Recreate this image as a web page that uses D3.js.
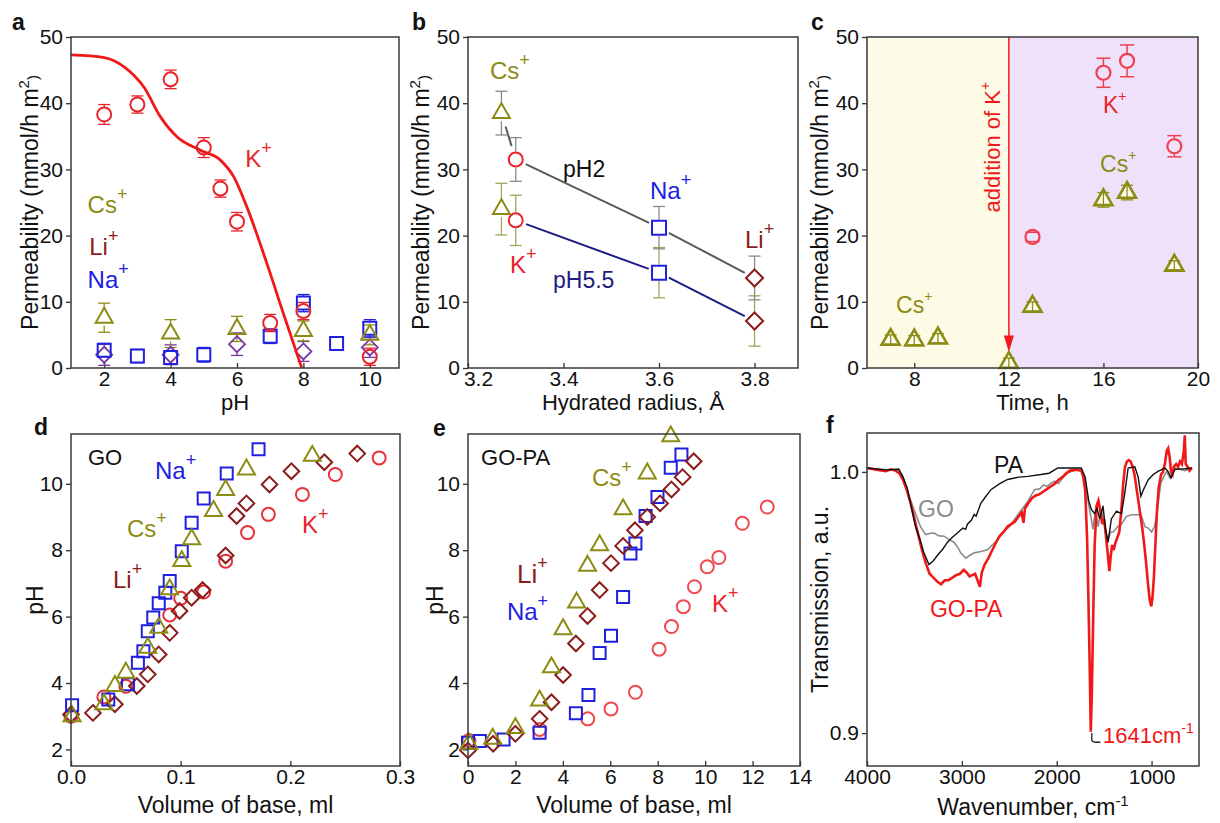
<!DOCTYPE html>
<html>
<head>
<meta charset="utf-8">
<script src="https://cdn.jsdelivr.net/npm/d3@7"></script>
<style>
  body { margin: 0; background: #fff; }
  svg { font-family: "Liberation Sans", Arial, sans-serif; }
</style>
</head>
<body>
<svg id="fig" width="1220" height="823"></svg>
<script>
const FONT = '"Liberation Sans", Arial, sans-serif';
const RED = '#e8242c', OLIVE = '#8c8c14', BLUE = '#2020e0', MAROON = '#8b1c1c', PURPLE = '#7a36a6';

// a: permeability vs pH, [pH, value, error]
const aK = [[2, 38.3, 1.5], [3, 39.8, 1.3], [4, 43.6, 1.4], [5, 33.3, 1.5], [5.5, 27.1, 1.3], [6, 22.1, 1.4], [7, 6.8, 1.3], [8, 8.6, 1.3], [10, 1.7, 1.3]];
const aCs = [[2, 7.6, 2.2], [4, 5.2, 2.1], [6, 5.9, 1.9], [8, 5.6, 1.5], [10, 5.0, 1.5]];
const aNa = [[2, 2.7, 1.0], [3, 1.8, 1.0], [4, 1.6, 1.0], [5, 2.0, 1.1], [7, 4.8, 1.1], [8, 9.8, 1.3], [9, 3.7, 1.0], [10, 6.0, 1.3]];
const aLi = [[2, 2.0, 1.6], [4, 2.0, 1.5], [6, 3.6, 1.7], [8, 2.5, 1.5], [10, 3.1, 1.5]];
const aFit = [[1, 47.3], [2, 46.9], [2.6, 45.5], [3.2, 42.4], [3.7, 37.9], [4.2, 34.9], [4.9, 32.9], [5.5, 31.4], [5.9, 28.9], [6.3, 24.3], [6.9, 15.8], [7.4, 8.2], [7.95, 0]];

// b: permeability vs hydrated radius (Cs, K, Na, Li)
const bRadius = [3.27, 3.30, 3.60, 3.80];
const bPH2 = [38.5, 31.5, 21.2, 13.6];
const bPH2Err = [3.3, 3.3, 3.2, 3.3];
const bPH55 = [24.0, 22.3, 14.4, 7.1];
const bPH55Err = [3.9, 3.8, 3.8, 3.8];

// c: permeability vs time
const cCsTime = [7, 8, 9, 12, 13, 16, 17, 19];
const cCs = [4.3, 4.2, 4.5, 0.8, 9.3, 25.4, 26.5, 15.5];
const cCsErr = [0.7, 0.7, 0.7, 0.7, 0.7, 1.1, 1.1, 0.7];
const cKTime = [13, 16, 17, 19];
const cK = [19.8, 44.6, 46.4, 33.5];
const cKErr = [0.7, 2.2, 2.4, 1.6];
const cAddition = 12;

// d: GO titration, [volume ml, pH]
const dNa = [[0.001, 3.33], [0.034, 3.5], [0.052, 3.96], [0.061, 4.61], [0.066, 4.96], [0.070, 5.56], [0.075, 5.97], [0.080, 6.40], [0.086, 6.72], [0.090, 7.07], [0.101, 7.97], [0.110, 8.83], [0.121, 9.56], [0.142, 10.31], [0.171, 11.04]];
const dCs = [[0.001, 3.0], [0.030, 3.36], [0.040, 3.91], [0.050, 4.31], [0.070, 5.06], [0.080, 5.66], [0.090, 6.82], [0.101, 7.67], [0.110, 8.33], [0.130, 9.18], [0.141, 9.81], [0.160, 10.43], [0.220, 10.84]];
const dLi = [[0.0, 3.05], [0.020, 3.10], [0.040, 3.36], [0.060, 3.91], [0.070, 4.26], [0.080, 4.86], [0.090, 5.51], [0.099, 6.17], [0.110, 6.57], [0.120, 6.80], [0.141, 7.84], [0.151, 9.03], [0.160, 9.41], [0.181, 9.98], [0.201, 10.38], [0.231, 10.65], [0.261, 10.91]];
const dK = [[0.0, 3.0], [0.03, 3.58], [0.05, 3.9], [0.09, 6.05], [0.10, 6.55], [0.121, 6.74], [0.141, 7.67], [0.161, 8.53], [0.180, 9.08], [0.211, 9.68], [0.241, 10.28], [0.281, 10.78]];

// e: GO-PA titration, [volume ml, pH]
const eCs = [[0.04, 2.17], [1.04, 2.32], [2.0, 2.64], [3.02, 3.47], [3.52, 4.47], [4.01, 5.62], [4.58, 6.42], [5.04, 7.53], [5.55, 8.15], [6.54, 9.23], [7.56, 10.31], [8.55, 11.43]];
const eLi = [[0.0, 1.97], [1.06, 2.17], [2.0, 2.47], [3.02, 2.92], [3.52, 3.42], [4.01, 4.24], [4.55, 5.19], [5.04, 6.02], [5.55, 6.80], [6.03, 7.61], [6.54, 8.13], [7.04, 8.60], [7.56, 9.0], [8.1, 9.41], [8.58, 9.83], [9.05, 10.2], [9.52, 10.68]];
const eNa = [[0.0, 2.2], [0.5, 2.25], [1.5, 2.3], [3.02, 2.5], [4.55, 3.09], [5.08, 3.64], [5.55, 4.9], [6.03, 5.42], [6.54, 6.59], [6.85, 7.9], [7.06, 8.2], [7.49, 9.03], [7.99, 9.6], [8.55, 10.48], [9.0, 10.88]];
const eK = [[0.04, 2.27], [3.02, 2.6], [5.05, 2.92], [6.03, 3.22], [7.06, 3.72], [8.06, 5.02], [8.58, 5.7], [9.08, 6.3], [9.55, 6.9], [10.09, 7.5], [10.58, 7.78], [11.57, 8.81], [12.62, 9.3]];

// f: FTIR, [wavenumber, transmission]
const fGOPA = [[4000, 1.0015], [3900, 1.0008], [3800, 1.0003], [3750, 1.001], [3700, 1.0005], [3660, 0.9995], [3620, 0.997], [3580, 0.993], [3540, 0.988], [3500, 0.982], [3460, 0.976], [3420, 0.970], [3380, 0.965], [3340, 0.961], [3300, 0.9595], [3260, 0.958], [3220, 0.957], [3180, 0.9585], [3140, 0.9585], [3100, 0.9595], [3060, 0.9605], [3020, 0.961], [2980, 0.9625], [2950, 0.9615], [2920, 0.960], [2890, 0.9605], [2860, 0.961], [2830, 0.958], [2810, 0.956], [2790, 0.9615], [2760, 0.9645], [2720, 0.967], [2680, 0.970], [2640, 0.973], [2600, 0.9755], [2560, 0.977], [2520, 0.979], [2480, 0.980], [2440, 0.981], [2400, 0.983], [2370, 0.9845], [2350, 0.9805], [2335, 0.986], [2300, 0.988], [2260, 0.990], [2220, 0.991], [2180, 0.9915], [2140, 0.9925], [2100, 0.9935], [2060, 0.9945], [2020, 0.9955], [1980, 0.997], [1940, 0.998], [1900, 0.9995], [1860, 1.0005], [1800, 1.0008], [1740, 1.0005], [1720, 0.998], [1700, 0.993], [1680, 0.975], [1665, 0.950], [1652, 0.925], [1641, 0.9005], [1630, 0.915], [1615, 0.945], [1600, 0.972], [1580, 0.987], [1560, 0.989], [1540, 0.985], [1520, 0.980], [1500, 0.982], [1480, 0.975], [1460, 0.968], [1445, 0.962], [1430, 0.968], [1415, 0.972], [1400, 0.970], [1380, 0.973], [1360, 0.975], [1340, 0.977], [1320, 0.985], [1300, 0.995], [1280, 1.002], [1260, 1.004], [1240, 1.0045], [1220, 1.004], [1200, 1.002], [1180, 0.999], [1160, 0.994], [1140, 0.989], [1120, 0.984], [1100, 0.979], [1080, 0.973], [1060, 0.966], [1040, 0.958], [1020, 0.951], [1003, 0.9485], [990, 0.952], [975, 0.960], [960, 0.972], [945, 0.984], [925, 0.994], [900, 0.999], [880, 1.0], [860, 1.003], [840, 1.008], [825, 1.009], [810, 1.006], [795, 1.0], [780, 0.999], [765, 1.002], [740, 1.003], [720, 1.002], [700, 1.004], [680, 1.003], [660, 1.008], [650, 1.014], [640, 1.003], [620, 1.002], [600, 1.0005], [575, 1.0015]];
const fGO = [[4000, 1.0015], [3800, 1.0008], [3665, 1.001], [3620, 0.998], [3576, 0.993], [3506, 0.9856], [3435, 0.979], [3382, 0.976], [3330, 0.9765], [3294, 0.9766], [3240, 0.9755], [3188, 0.9754], [3130, 0.974], [3082, 0.973], [3040, 0.971], [3012, 0.969], [2959, 0.967], [2920, 0.968], [2870, 0.969], [2800, 0.9695], [2729, 0.9702], [2680, 0.972], [2623, 0.974], [2560, 0.977], [2500, 0.979], [2447, 0.9817], [2380, 0.985], [2300, 0.989], [2235, 0.9932], [2180, 0.9935], [2140, 0.995], [2100, 0.9945], [2058, 0.9958], [2020, 0.9965], [1980, 0.9955], [1930, 0.998], [1882, 0.9996], [1800, 1.0008], [1741, 1.001], [1700, 0.996], [1671, 0.989], [1640, 0.983], [1618, 0.978], [1590, 0.986], [1565, 0.979], [1529, 0.9856], [1494, 0.979], [1459, 0.974], [1430, 0.977], [1406, 0.977], [1360, 0.979], [1317, 0.980], [1265, 0.983], [1211, 0.9836], [1141, 0.9836], [1106, 0.983], [1070, 0.979], [1035, 0.9785], [1000, 0.977], [970, 0.979], [947, 0.983], [920, 0.991], [901, 0.996], [860, 0.999], [841, 1.0], [806, 0.9977], [780, 1.0], [753, 1.0015], [700, 1.001], [650, 1.0005], [576, 1.0015]];
const fPA = [[4000, 1.0015], [3800, 1.0008], [3665, 1.001], [3620, 0.998], [3576, 0.9939], [3488, 0.979], [3440, 0.974], [3400, 0.969], [3347, 0.9645], [3300, 0.966], [3259, 0.968], [3200, 0.9705], [3153, 0.973], [3100, 0.975], [3047, 0.9766], [2990, 0.9785], [2960, 0.978], [2941, 0.980], [2900, 0.9815], [2870, 0.9837], [2850, 0.983], [2800, 0.988], [2750, 0.9905], [2694, 0.9932], [2600, 0.9955], [2517, 0.9971], [2400, 0.998], [2306, 0.9983], [2165, 0.999], [2080, 0.9995], [1988, 1.0015], [1900, 1.0015], [1741, 1.0015], [1700, 0.998], [1663, 0.989], [1635, 0.9856], [1600, 0.984], [1575, 0.986], [1547, 0.982], [1512, 0.987], [1487, 0.9785], [1459, 0.973], [1424, 0.982], [1370, 0.985], [1317, 0.984], [1282, 0.992], [1247, 1.0015], [1176, 1.002], [1141, 0.998], [1113, 0.9907], [1088, 0.993], [1035, 0.997], [982, 0.999], [929, 1.0003], [859, 1.0015], [824, 1.0], [795, 0.9977], [753, 1.001], [650, 1.0012], [576, 1.0015]];

const svg = d3.select('#fig');

const panel = (box, xDomain, yDomain) => {
    const g = svg.append('g').attr('transform', `translate(${box[0]},${box[1]})`);
    const w = box[2] - box[0];
    const h = box[3] - box[1];
    const x = d3.scaleLinear().domain(xDomain).range([0, w]);
    const y = d3.scaleLinear().domain(yDomain).range([h, 0]);
    return { g, x, y, w, h };
};

const axes = (p, xTicks, yTicks, xFmt, yFmt) => {
    p.xAxis = p.g.append('g')
        .attr('transform', `translate(0,${p.h})`)
        .call(d3.axisBottom(p.x).tickValues(xTicks).tickFormat(xFmt).tickSizeInner(-5).tickSizeOuter(0).tickPadding(3));
    p.g.append('g')
        .call(d3.axisLeft(p.y).tickValues(yTicks).tickFormat(yFmt).tickSizeInner(5).tickSizeOuter(0).tickPadding(3));
    p.g.selectAll('.domain').remove();
    p.g.selectAll('.tick line').attr('stroke', '#333').attr('stroke-width', 1.3);
    p.g.selectAll('.tick text').attr('fill', '#111').style('font-size', '21px').style('font-family', FONT);
};

const frame = (p) => {
    p.g.append('rect')
        .attr('width', p.w).attr('height', p.h)
        .attr('fill', 'none').attr('stroke', '#3a3a3a').attr('stroke-width', 1.5);
};

const shape = (type, s) => {
    if (type === 'circle') {
        const path = d3.path();
        path.arc(0, 0, s, 0, 2 * Math.PI);
        path.closePath();
        return path.toString();
    }
    if (type === 'square') return `M${-s},${-s}h${2 * s}v${2 * s}h${-2 * s}Z`;
    if (type === 'diamond') return `M0,${-s}L${s},0L0,${s}L${-s},0Z`;
    const h = s * 1.75;
    return `M0,${-h * 2 / 3}L${s},${h / 3}L${-s},${h / 3}Z`;
};

const points = (p, data, type, color, s, sw, fill) => {
    p.g.append('g').selectAll('path').data(data).join('path')
        .attr('transform', (d) => `translate(${p.x(d[0])},${p.y(d[1])})`)
        .attr('d', shape(type, s))
        .attr('fill', fill || 'none')
        .attr('stroke', color)
        .attr('stroke-width', sw);
};

// error bars with a gap of `gap` px around the marker centre
const errors = (p, data, color, cap, gap, sw) => {
    const g = p.g.append('g').attr('stroke', color).attr('stroke-width', sw || 1.3);
    data.forEach((d) => {
        const cx = p.x(d[0]);
        const cy = p.y(d[1]);
        const top = p.y(d[1] + d[2]);
        const bot = p.y(d[1] - d[2]);
        if (cy - top > gap) g.append('line').attr('x1', cx).attr('x2', cx).attr('y1', top).attr('y2', cy - gap);
        if (bot - cy > gap) g.append('line').attr('x1', cx).attr('x2', cx).attr('y1', cy + gap).attr('y2', bot);
        g.append('line').attr('x1', cx - cap).attr('x2', cx + cap).attr('y1', top).attr('y2', top);
        g.append('line').attr('x1', cx - cap).attr('x2', cx + cap).attr('y1', bot).attr('y2', bot);
    });
};

const label = (p, xv, yv, base, sup, color, size, supSize, supDy) => {
    const t = p.g.append('text')
        .attr('x', p.x(xv)).attr('y', p.y(yv))
        .attr('fill', color)
        .style('font-size', `${size}px`);
    t.append('tspan').text(base);
    if (sup) t.append('tspan').attr('dy', supDy).style('font-size', `${supSize}px`).text(sup);
    return t;
};

const xTitle = (p, offset, size, parts) => {
    const t = p.g.append('text').attr('x', p.w / 2).attr('y', p.h + offset)
        .attr('text-anchor', 'middle').attr('fill', '#111').style('font-size', `${size}px`);
    parts.forEach((part) => {
        const s = t.append('tspan').text(part[0]);
        if (part[1]) s.attr('dy', part[1]).style('font-size', '15px');
        if (part[2]) s.attr('dy', part[2]);
    });
};

const yTitle = (p, x, parts) => {
    const t = p.g.append('text')
        .attr('transform', `translate(${x},${p.h / 2}) rotate(-90)`)
        .attr('text-anchor', 'middle').attr('fill', '#111').style('font-size', '23px');
    parts.forEach((part) => {
        const s = t.append('tspan').text(part[0]);
        if (part[1]) s.attr('dy', part[1]).style('font-size', '15px');
        if (part[2]) s.attr('dy', part[2]);
    });
};

const letter = (x, y, text) => {
    svg.append('text').attr('x', x).attr('y', y)
        .style('font-size', '23px').style('font-weight', 'bold').attr('fill', '#111').text(text);
};

const permTitle = [['Permeability (mmol/h m'], ['2', -9], [')', 9]];

// ---- a ----
const pa = panel([71, 37, 399, 368], [1, 10.88], [0, 50]);
axes(pa, [2, 4, 6, 8, 10], [0, 10, 20, 30, 40, 50], d3.format('d'), d3.format('d'));
errors(pa, aLi, PURPLE, 6, 7);
errors(pa, aNa, BLUE, 6, 7);
errors(pa, aCs, OLIVE, 6, 8);
errors(pa, aK, RED, 6, 7);
points(pa, aLi, 'diamond', PURPLE, 8, 1.8);
points(pa, aNa, 'square', BLUE, 6.5, 2);
points(pa, aCs, 'triangle', OLIVE, 8.5, 2);
points(pa, aK, 'circle', RED, 7, 2);
pa.g.append('path').datum(aFit)
    .attr('d', d3.line().x((d) => pa.x(d[0])).y((d) => pa.y(d[1])).curve(d3.curveMonotoneX))
    .attr('fill', 'none').attr('stroke', '#f01818').attr('stroke-width', 2.8);
label(pa, 6.25, 30.3, 'K', '+', RED, 24, 18, -13);
label(pa, 1.5, 23.4, 'Cs', '+', OLIVE, 24, 18, -13);
label(pa, 1.55, 17.0, 'Li', '+', MAROON, 24, 18, -13);
label(pa, 1.5, 12.1, 'Na', '+', BLUE, 24, 18, -13);
frame(pa);
xTitle(pa, 42, 22, [['pH']]);
yTitle(pa, -33, permTitle);

// ---- b ----
const pb = panel([468, 37, 798, 368], [3.2, 3.891], [0, 50]);
axes(pb, [3.2, 3.4, 3.6, 3.8], [0, 10, 20, 30, 40, 50], d3.format('.1f'), d3.format('d'));
pb.xAxis.selectAll('.tick text').filter((d) => d === 3.2).attr('dx', 10);
const seg = (p, xs, ys, color, trims) => {
    for (let i = 0; i < xs.length - 1; i += 1) {
        const x1 = p.x(xs[i]), y1 = p.y(ys[i]), x2 = p.x(xs[i + 1]), y2 = p.y(ys[i + 1]);
        const L = Math.hypot(x2 - x1, y2 - y1);
        const t = trims[i];
        p.g.append('line')
            .attr('x1', x1 + (x2 - x1) * t / L).attr('y1', y1 + (y2 - y1) * t / L)
            .attr('x2', x2 - (x2 - x1) * t / L).attr('y2', y2 - (y2 - y1) * t / L)
            .attr('stroke', color).attr('stroke-width', 2);
    }
};
seg(pb, bRadius, bPH2, '#5a5a5a', [14, 11, 11]);
seg(pb, bRadius.slice(1), bPH55.slice(1), '#1c1c84', [11, 11]);
const bColors = [OLIVE, RED, BLUE, MAROON];
const bShapes = ['triangle', 'circle', 'square', 'diamond'];
const bSizes = [8.5, 7, 7, 8.5];
errors(pb, bRadius.map((r, i) => [r, bPH55[i], bPH55Err[i]]), '#a3a35a', 6, 8, 1.3);
errors(pb, bRadius.map((r, i) => [r, bPH2[i], bPH2Err[i]]), '#8a8a8a', 6, 8, 1.3);
bRadius.forEach((r, i) => {
    points(pb, [[r, bPH2[i]], [r, bPH55[i]]], bShapes[i], bColors[i], bSizes[i], 2, '#fff');
});
label(pb, 3.246, 43.7, 'Cs', '+', OLIVE, 24, 18, -13);
label(pb, 3.399, 28.8, 'pH2', null, '#111', 23);
label(pb, 3.581, 25.6, 'Na', '+', BLUE, 24, 18, -13);
label(pb, 3.78, 18.1, 'Li', '+', MAROON, 24, 18, -13);
label(pb, 3.288, 14.3, 'K', '+', RED, 24, 18, -13);
label(pb, 3.378, 12.1, 'pH5.5', null, '#1c1c84', 23);
frame(pb);
xTitle(pb, 42, 22, [['Hydrated radius, Å']]);
yTitle(pb, -39, permTitle);

// ---- c ----
const pc = panel([867, 37, 1198, 368], [6, 20], [0, 50]);
pc.g.append('rect').attr('x', 0).attr('y', 0).attr('width', pc.x(cAddition)).attr('height', pc.h).attr('fill', '#fdfae6');
pc.g.append('rect').attr('x', pc.x(cAddition)).attr('y', 0).attr('width', pc.w - pc.x(cAddition)).attr('height', pc.h).attr('fill', '#f0e1fb');
axes(pc, [8, 12, 16, 20], [0, 10, 20, 30, 40, 50], d3.format('d'), d3.format('d'));
pc.g.append('line')
    .attr('x1', pc.x(cAddition)).attr('x2', pc.x(cAddition))
    .attr('y1', 0).attr('y2', pc.y(4.7))
    .attr('stroke', '#f01818').attr('stroke-width', 1.5);
pc.g.append('path')
    .attr('d', `M${pc.x(cAddition) - 5},${pc.y(4.9)}L${pc.x(cAddition) + 5},${pc.y(4.9)}L${pc.x(cAddition)},${pc.y(2.4)}Z`)
    .attr('fill', '#f01818');
points(pc, cCsTime.map((t, i) => [t, cCs[i]]), 'triangle', OLIVE, 9, 2.6, '#fbfbf0');
errors(pc, cCsTime.map((t, i) => [t, cCs[i], cCsErr[i]]), OLIVE, 6, 0, 1.3);
errors(pc, cKTime.map((t, i) => [t, cK[i], cKErr[i]]), '#ee4050', 7, 7, 1.5);
points(pc, cKTime.map((t, i) => [t, cK[i]]), 'circle', '#ee4050', 7, 2.2);
label(pc, 7.23, 8.3, 'Cs', '+', OLIVE, 23, 14, -12);
label(pc, 15.98, 38.5, 'K', '+', RED, 23, 14, -12);
label(pc, 15.86, 29.6, 'Cs', '+', OLIVE, 23, 14, -12);
const add = pc.g.append('text')
    .attr('transform', `translate(${pc.x(11.62)},${pc.y(23.5)}) rotate(-90)`)
    .attr('fill', '#f01818').style('font-size', '22px');
add.append('tspan').text('addition of K');
add.append('tspan').attr('dy', -10).style('font-size', '14px').text('+');
frame(pc);
xTitle(pc, 42, 22, [['Time, h']]);
yTitle(pc, -39, permTitle);

// ---- d ----
const pd = panel([71, 434, 400, 766], [0, 0.3], [1.5, 11.5]);
axes(pd, [0, 0.1, 0.2, 0.3], [2, 4, 6, 8, 10], d3.format('.1f'), d3.format('d'));
points(pd, dK, 'circle', '#e8303a', 6.5, 2);
points(pd, dLi, 'diamond', MAROON, 7.8, 2);
points(pd, dNa, 'square', BLUE, 6, 2);
points(pd, dCs, 'triangle', OLIVE, 8.5, 2);
label(pd, 0.0155, 10.57, 'GO', null, '#111', 22);
label(pd, 0.0766, 10.15, 'Na', '+', BLUE, 24, 18, -13);
label(pd, 0.051, 8.40, 'Cs', '+', OLIVE, 24, 18, -13);
label(pd, 0.0383, 6.86, 'Li', '+', MAROON, 24, 18, -13);
label(pd, 0.2106, 8.52, 'K', '+', RED, 24, 18, -13);
frame(pd);
xTitle(pd, 47, 23, [['Volume of base, ml']]);
yTitle(pd, -28, [['pH']]);

// ---- e ----
const pe = panel([468, 434, 800, 766], [0, 14], [1.5, 11.5]);
axes(pe, [0, 2, 4, 6, 8, 10, 12, 14], [2, 4, 6, 8, 10], d3.format('d'), d3.format('d'));
points(pe, eK, 'circle', '#ee4a50', 6.5, 2);
points(pe, eNa, 'square', BLUE, 6, 2);
points(pe, eLi, 'diamond', MAROON, 7.8, 2);
points(pe, eCs, 'triangle', OLIVE, 8.5, 2);
label(pe, 0.55, 10.57, 'GO-PA', null, '#111', 22);
label(pe, 5.23, 9.94, 'Cs', '+', OLIVE, 24, 18, -13);
label(pe, 2.07, 7.01, 'Li', '+', MAROON, 26, 18, -14);
label(pe, 1.64, 5.90, 'Na', '+', BLUE, 24, 18, -13);
label(pe, 10.29, 6.14, 'K', '+', RED, 24, 18, -13);
frame(pe);
xTitle(pe, 47, 23, [['Volume of base, ml']]);
yTitle(pe, -25, [['pH']]);

// ---- f ----
const pf = panel([867, 433, 1199, 766], [4000, 500], [0.8874, 1.0149]);
axes(pf, [4000, 3000, 2000, 1000], [0.9, 1.0], d3.format('d'), d3.format('.1f'));
const fLine = d3.line().x((d) => pf.x(d[0])).y((d) => pf.y(d[1]));
pf.g.append('path').datum(fGO).attr('d', fLine).attr('fill', 'none').attr('stroke', '#8c8c8c').attr('stroke-width', 1.6);
pf.g.append('path').datum(fGOPA).attr('d', fLine).attr('fill', 'none').attr('stroke', '#f01818').attr('stroke-width', 2.6);
pf.g.append('path').datum(fPA).attr('d', fLine).attr('fill', 'none').attr('stroke', '#111').attr('stroke-width', 1.4);
pf.g.append('path')
    .attr('d', `M${pf.x(1641) + 1},${pf.y(0.9)}L${pf.x(1641) + 1},${pf.y(0.8975)}Q${pf.x(1641) + 1},${pf.y(0.8965)} ${pf.x(1641) + 5},${pf.y(0.8965)}L${pf.x(1540)},${pf.y(0.8965)}`)
    .attr('fill', 'none').attr('stroke', '#222').attr('stroke-width', 1.3);
label(pf, 2661, 0.9996, 'PA', null, '#111', 23);
label(pf, 3462, 0.9828, 'GO', null, '#8c8c8c', 23);
label(pf, 3336, 0.9444, 'GO-PA', null, '#f01818', 23);
label(pf, 1512, 0.8962, '1641cm', '-1', '#f01818', 22, 14, -10);
frame(pf);
xTitle(pf, 49, 23, [['Wavenumber, cm'], ['-1', -9]]);
yTitle(pf, -39, [['Transmission, a.u.']]);

letter(12, 30, 'a');
letter(412, 30, 'b');
letter(811, 30, 'c');
letter(34, 435, 'd');
letter(433, 436, 'e');
letter(826, 433, 'f');
</script>
</body>
</html>
